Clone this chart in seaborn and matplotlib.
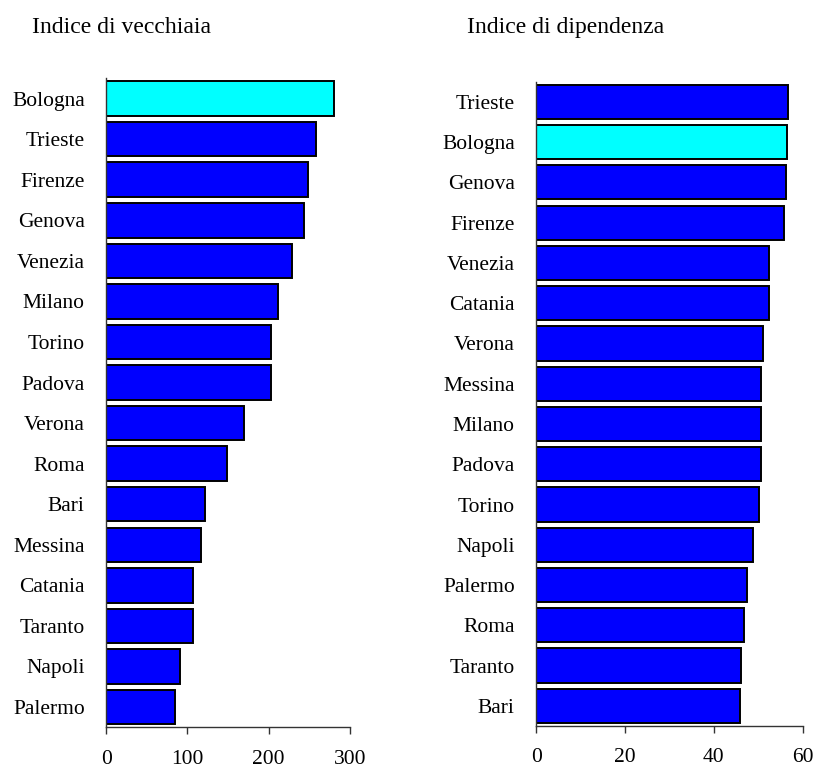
import matplotlib
matplotlib.use("Agg")
import matplotlib.pyplot as plt
import seaborn as sns
import pandas as pd

# Data
cities_vecchiaia = ["Bologna", "Trieste", "Firenze", "Genova", "Venezia", "Milano",
                    "Torino", "Padova", "Verona", "Roma", "Bari", "Messina",
                    "Catania", "Taranto", "Napoli", "Palermo"]
values_vecchiaia = [281, 259, 249, 244, 229, 212, 203, 203, 170, 149, 122, 117,
                    107, 107, 91, 85]

cities_dipendenza = ["Trieste", "Bologna", "Genova", "Firenze", "Venezia", "Catania",
                     "Verona", "Messina", "Milano", "Padova", "Torino", "Napoli",
                     "Palermo", "Roma", "Taranto", "Bari"]
values_dipendenza = [56.6, 56.5, 56.2, 55.7, 52.3, 52.3, 51.0, 50.5, 50.5, 50.5,
                     50.2, 48.8, 47.5, 46.7, 46.2, 45.8]

titles = ["Indice di vecchiaia", "Indice di dipendenza"]
xticks_left = [0, 100, 200, 300]
xticks_right = [0, 20, 40, 60]
highlight = "Bologna"

sns.set_style("white")
plt.rcParams["font.family"] = ["Liberation Serif", "DejaVu Serif"]
plt.rcParams["text.color"] = "black"
plt.rcParams["xtick.color"] = "black"
plt.rcParams["ytick.color"] = "black"
plt.rcParams["axes.labelcolor"] = "black"

fig = plt.figure(figsize=(8.14, 7.68), dpi=100)
ax1 = fig.add_axes([106.3 / 814, 1 - 727.3 / 768, 243.4 / 814, 649.0 / 768])
ax2 = fig.add_axes([536.3 / 814, 1 - 726.0 / 768, 266.4 / 814, 644.3 / 768])


def draw(ax, cities, values, ticks, title, title_x):
    df = pd.DataFrame({"city": cities, "value": values})
    pal = {c: ("#00FFFF" if c == highlight else "#0000FF") for c in cities}
    sns.barplot(data=df, y="city", x="value", hue="city", palette=pal,
                order=cities, hue_order=cities, orient="h", width=0.85,
                edgecolor="black", linewidth=1.4, saturation=1, legend=False, ax=ax)
    ax.set_xlim(ticks[0], ticks[-1])
    ax.set_ylim(len(cities) - 0.5, -0.5)
    ax.set_xticks(ticks)
    ax.set_xlabel("")
    ax.set_ylabel("")
    for s in ["top", "right"]:
        ax.spines[s].set_visible(False)
    for s in ["left", "bottom"]:
        ax.spines[s].set_color("#333333")
        ax.spines[s].set_linewidth(1.0)
    ax.tick_params(axis="x", direction="out", length=5, width=1.0, color="#333333",
                   pad=11, labelsize=15.5, bottom=True, labelcolor="black")
    ax.tick_params(axis="y", length=0, pad=15.5, labelsize=15.5, left=False,
                   labelcolor="black")
    fig.text(title_x / 814, 1 - 33.3 / 768, title, fontsize=17,
             ha="left", va="baseline", color="black")


draw(ax1, cities_vecchiaia, values_vecchiaia, xticks_left, titles[0], 31.7)
draw(ax2, cities_dipendenza, values_dipendenza, xticks_right, titles[1], 467.3)

fig.savefig("out.png", dpi=100)
